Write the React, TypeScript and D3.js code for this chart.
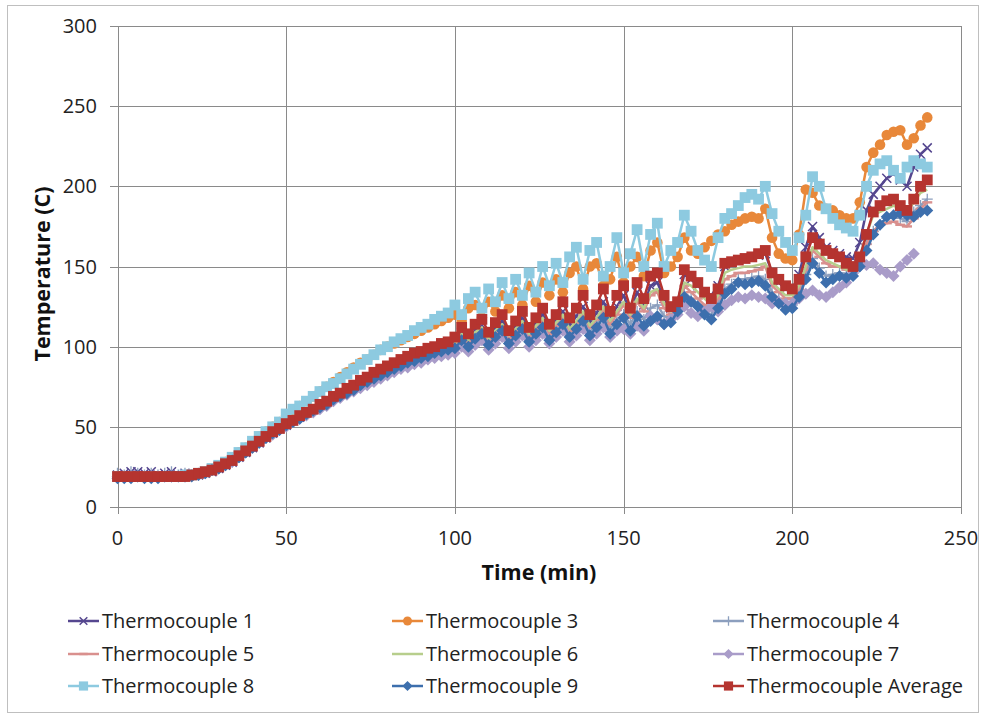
import React from "react";
import * as d3 from "d3";

const TIME = [0,2,4,6,8,10,12,14,16,18,20,22,24,26,28,30,32,34,36,38,40,42,44,46,48,50,52,54,56,58,60,62,64,66,68,70,72,74,76,78,80,82,84,86,88,90,92,94,96,98,100,102,104,106,108,110,112,114,116,118,120,122,124,126,128,130,132,134,136,138,140,142,144,146,148,150,152,154,156,158,160,162,164,166,168,170,172,174,176,178,180,182,184,186,188,190,192,194,196,198,200,202,204,206,208,210,212,214,216,218,220,222,224,226,228,230,232,234,236,238,240];

const TC1 = [20,21,22,22,21,22,20,21,22,20,21,20,
 20,21,22,24,26,28,31,34,37,40,43,46,49,
 51,54,56,59,61,64,66,68,71,73,76,78,80,83,85,87,89,91,93,95,96,98,99,101,102,
 103,109,105,110,113,107,112,116,109,113,118,110,115,120,112,117,122,113,119,125,115,121,128,118,125,
 132,122,134,126,138,140,130,124,128,145,142,138,134,132,138,150,152,154,155,156,157,158,146,140,136,
 136,145,162,175,168,162,160,158,156,155,165,185,195,200,205,208,204,200,212,220,224];

const TC3 = [19,19,19,19,19,19,19,19,19,19,20,20,
 21,22,24,26,28,31,34,37,40,44,47,50,53,
 57,60,63,66,69,72,75,78,81,84,87,90,92,95,98,100,102,104,106,108,110,112,114,116,118,
 120,116,124,126,118,128,122,132,124,134,126,138,128,140,132,142,134,146,150,136,150,152,138,142,156,
 140,150,156,144,160,165,146,150,156,168,160,158,162,166,170,172,176,178,180,181,180,186,168,158,155,
 154,170,198,196,188,186,185,182,180,180,190,212,221,226,232,234,235,226,230,238,243];

const TC4 = [21,20,22,21,20,21,20,21,22,20,21,20,
 21,21,23,24,26,28,31,34,37,40,43,46,48,
 51,53,56,58,60,63,65,67,69,72,74,76,78,80,82,84,86,88,90,92,93,95,96,98,99,
 100,105,101,106,109,103,107,111,104,108,112,105,110,114,106,111,116,108,113,118,109,114,120,111,117,
 120,114,122,117,124,126,119,118,124,134,130,126,122,120,127,136,139,142,142,143,144,142,134,130,126,
 126,133,145,155,149,144,145,146,145,146,154,164,172,176,180,182,180,178,184,188,192];

const TC5 = [19,19,19,19,19,19,19,19,19,19,19,20,
 20,22,23,25,27,29,31,34,37,40,43,46,49,
 51,54,56,58,61,63,65,67,70,72,74,77,79,81,83,85,87,89,91,93,94,96,97,99,100,
 101,106,102,107,110,104,108,112,105,109,114,107,111,116,108,113,118,110,115,120,112,117,123,114,120,
 126,118,128,122,132,134,124,120,124,138,134,130,126,123,130,142,144,146,146,147,148,150,138,134,130,
 130,136,148,160,156,152,150,150,148,146,152,164,172,176,177,178,176,175,180,186,190];

const TC6 = [19,19,19,19,19,19,19,19,19,19,19,20,
 21,22,23,25,27,29,32,35,38,41,44,46,49,
 51,54,56,58,61,63,65,68,70,72,75,77,79,82,84,86,88,90,92,94,95,97,98,100,101,
 102,108,104,109,112,105,110,114,107,111,116,108,113,118,110,115,120,111,116,122,113,118,125,116,122,
 128,120,130,124,134,136,127,122,126,140,138,134,130,126,132,146,148,149,150,150,151,152,140,136,132,
 132,138,150,162,158,154,152,150,148,148,156,170,182,184,186,188,186,184,190,196,198];

const TC7 = [19,19,19,19,19,19,19,19,19,19,19,20,
 20,21,23,24,26,28,31,34,37,40,43,45,48,
 50,53,55,57,59,61,63,66,68,70,72,74,76,78,80,82,84,86,87,89,90,92,93,94,95,
 96,100,97,101,104,98,102,106,99,103,107,100,104,108,102,106,110,103,107,111,104,108,112,106,110,
 111,108,113,110,119,117,114,117,120,125,121,119,122,125,122,126,129,131,130,132,131,130,127,128,127,
 127,130,133,135,132,131,134,137,140,146,150,151,152,148,146,144,150,154,158];

const TC8 = [19,19,19,19,19,19,19,19,19,19,20,20,
 21,22,24,26,28,31,34,37,41,44,47,50,53,
 58,61,63,66,69,72,75,77,80,83,86,89,92,95,98,100,103,105,107,110,112,114,117,119,121,
 126,120,130,134,124,136,128,140,130,142,132,146,134,150,138,152,140,156,162,142,160,165,144,150,168,
 146,158,173,150,170,177,150,160,165,182,172,160,154,150,168,180,183,188,193,195,192,200,183,172,165,
 160,168,182,206,200,186,180,176,174,172,182,200,210,214,216,210,205,212,216,214,212];

const TC9 = [18,18,18,19,18,18,18,19,19,19,19,19,
 20,21,23,24,26,29,31,34,37,40,43,46,48,
 51,53,55,58,60,62,64,67,69,71,73,76,78,80,82,84,86,88,90,91,93,94,96,97,98,
 99,104,100,105,108,101,106,110,102,107,111,103,108,112,104,109,114,106,111,116,107,112,118,108,114,
 118,110,119,113,116,119,114,115,122,131,128,125,120,117,124,133,136,140,139,140,141,138,131,127,123,
 124,131,142,152,146,140,142,144,143,144,150,160,170,176,181,182,183,182,181,184,185];

const AVG = [19,19,19,19,19,19,19,19,19,19,19,20,
 21,22,23,25,27,29,32,35,38,41,44,47,49,
 52,54,57,59,61,64,66,69,71,74,76,79,81,84,86,88,90,92,94,96,97,99,100,102,103,
 106,112,108,114,117,109,115,120,110,116,122,112,118,124,114,120,128,118,124,132,120,126,136,122,132,
 138,124,140,130,144,146,132,125,128,148,144,140,134,130,136,152,153,154,155,156,158,160,146,142,138,
 136,142,156,168,164,160,158,156,152,150,156,170,184,188,191,192,188,185,192,200,204];

const X_TICKS = [0, 50, 100, 150, 200, 250];
const Y_TICKS = [0, 50, 100, 150, 200, 250, 300];

type Marker = "x" | "circle" | "plus" | "dash" | "none" | "diamond" | "square";

const SERIES: { name: string; values: number[]; color: string; marker: Marker }[] = [
  { name: "Thermocouple 1", values: TC1, color: "#55478F", marker: "x" },
  { name: "Thermocouple 3", values: TC3, color: "#E8883A", marker: "circle" },
  { name: "Thermocouple 4", values: TC4, color: "#8C9FBE", marker: "plus" },
  { name: "Thermocouple 5", values: TC5, color: "#D9908E", marker: "dash" },
  { name: "Thermocouple 6", values: TC6, color: "#B7CE8C", marker: "none" },
  { name: "Thermocouple 7", values: TC7, color: "#A99CC9", marker: "diamond" },
  { name: "Thermocouple 8", values: TC8, color: "#8DCAE0", marker: "square" },
  { name: "Thermocouple 9", values: TC9, color: "#3D6FAD", marker: "diamond" },
  { name: "Thermocouple Average", values: AVG, color: "#B5342F", marker: "square" },
];

const LEGEND_ORDER = [
  ["Thermocouple 1", "Thermocouple 3", "Thermocouple 4"],
  ["Thermocouple 5", "Thermocouple 6", "Thermocouple 7"],
  ["Thermocouple 8", "Thermocouple 9", "Thermocouple Average"],
];

const FONT = "'Open Sans', 'Noto Sans', sans-serif";

function MarkerShape({ type, cx, cy, color, s = 1 }: { type: Marker; cx: number; cy: number; color: string; s?: number }) {
  const k = s;
  switch (type) {
    case "x":
      return <path d={`M${cx - 4.5 * k},${cy - 4.5 * k}L${cx + 4.5 * k},${cy + 4.5 * k}M${cx - 4.5 * k},${cy + 4.5 * k}L${cx + 4.5 * k},${cy - 4.5 * k}`} stroke={color} strokeWidth={1.5} fill="none" />;
    case "plus":
      return <path d={`M${cx - 5.5 * k},${cy}L${cx + 5.5 * k},${cy}M${cx},${cy - 5.5 * k}L${cx},${cy + 5.5 * k}`} stroke={color} strokeWidth={1.3} fill="none" />;
    case "dash":
      return <path d={`M${cx - 5 * k},${cy}L${cx + 5 * k},${cy}`} stroke={color} strokeWidth={2.4} fill="none" />;
    case "circle":
      return <circle cx={cx} cy={cy} r={5.3 * k} fill={color} />;
    case "diamond":
      return <path d={`M${cx},${cy - 6 * k}L${cx + 6 * k},${cy}L${cx},${cy + 6 * k}L${cx - 6 * k},${cy}Z`} fill={color} />;
    case "square":
      return <rect x={cx - 5.4 * k} y={cy - 5.4 * k} width={10.8 * k} height={10.8 * k} fill={color} />;
    default:
      return null;
  }
}

export default function App() {
  const W = 985;
  const H = 719;
  const x = d3.scaleLinear().domain([0, 250]).range([117.5, 961]);
  const y = d3.scaleLinear().domain([0, 300]).range([507, 26]);
  const gridColor = "#8A8A8A";

  const line = d3
    .line<[number, number]>()
    .x((d) => x(d[0]))
    .y((d) => y(d[1]));

  const byName: Record<string, (typeof SERIES)[number]> = {};
  SERIES.forEach((s) => (byName[s.name] = s));

  const colX = [68, 392, 713];
  const rowY = [621, 654, 686];

  return (
    <svg width={W} height={H} style={{ position: "absolute", left: 0, top: 0, background: "#fff" }}>
      <rect x={7.5} y={5.5} width={971} height={707} fill="#fff" stroke="#BFBFBF" strokeWidth={1} />
      {Y_TICKS.map((t) => (
        <line key={"gy" + t} x1={110} x2={961} y1={Math.round(y(t)) + 0.5} y2={Math.round(y(t)) + 0.5} stroke={gridColor} strokeWidth={1} />
      ))}
      {X_TICKS.map((t) => (
        <line key={"gx" + t} x1={Math.round(x(t)) + 0.5} x2={Math.round(x(t)) + 0.5} y1={26} y2={514} stroke={gridColor} strokeWidth={1} />
      ))}
      {Y_TICKS.map((t) => (
        <text key={"ly" + t} x={97} y={y(t) + 7} textAnchor="end" fontFamily={FONT} fontSize={20} fill="#222">
          {t}
        </text>
      ))}
      {X_TICKS.map((t) => (
        <text key={"lx" + t} x={x(t)} y={545} textAnchor="middle" fontFamily={FONT} fontSize={20} fill="#222">
          {t}
        </text>
      ))}
      <text x={539} y={580} textAnchor="middle" fontFamily={FONT} fontSize={21.5} fontWeight="bold" fill="#111">
        Time (min)
      </text>
      <text transform="translate(50,274) rotate(-90)" textAnchor="middle" fontFamily={FONT} fontSize={21.5} fontWeight="bold" fill="#111">
        Temperature (C)
      </text>
      {SERIES.map((s) => {
        const pts: [number, number][] = s.values.map((v, i) => [TIME[i], v]);
        return (
          <g key={s.name}>
            <path d={line(pts) || ""} fill="none" stroke={s.color} strokeWidth={2.5} strokeLinejoin="round" />
            {s.marker !== "none" &&
              pts.map((p, i) => <MarkerShape key={i} type={s.marker} cx={x(p[0])} cy={y(p[1])} color={s.color} />)}
          </g>
        );
      })}
      {LEGEND_ORDER.map((row, ri) =>
        row.map((name, ci) => {
          const s = byName[name];
          const lx = colX[ci];
          const ly = rowY[ri];
          return (
            <g key={name}>
              <line x1={lx} x2={lx + 31} y1={ly} y2={ly} stroke={s.color} strokeWidth={2.5} />
              <MarkerShape type={s.marker} cx={lx + 15.5} cy={ly} color={s.color} s={0.85} />
              <text x={lx + 34} y={ly + 7} fontFamily={FONT} fontSize={20} fill="#222">
                {name}
              </text>
            </g>
          );
        })
      )}
    </svg>
  );
}
